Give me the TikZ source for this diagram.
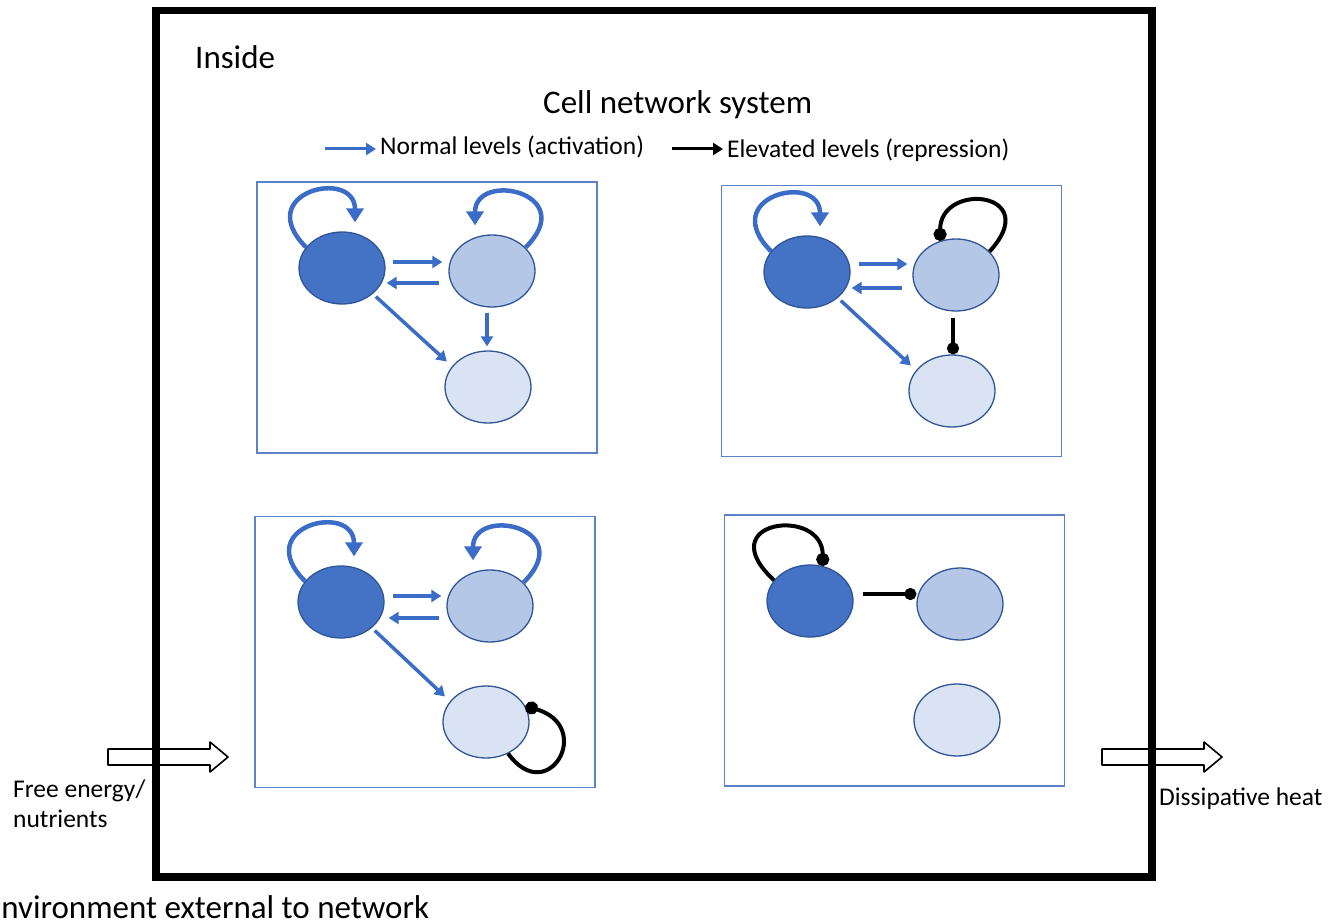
\documentclass[tikz,border=0pt]{standalone}
\usepackage{fontspec}
\setmainfont{Carlito}
\usepackage{xcolor}
\usetikzlibrary{arrows.meta,shapes.geometric}
\definecolor{celldark}{HTML}{4472C4}
\definecolor{cellmid}{HTML}{B4C7E7}
\definecolor{celllight}{HTML}{DAE3F3}
\definecolor{edgeblue}{HTML}{2F5597}
\definecolor{panelblue}{HTML}{5B82C8}
\definecolor{arrowblue}{HTML}{3A6CC8}
\newcommand{\bigtext}{\fontsize{33}{40}\selectfont}
\newcommand{\smalltext}{\fontsize{25.5}{30}\selectfont}
\tikzstyle{panel} = [draw=panelblue, line width=1.5pt, rectangle, minimum width=340pt, minimum height=271pt, inner sep=0pt]
\tikzstyle{gene} = [draw=edgeblue, line width=1.3pt, ellipse, minimum width=86pt, minimum height=72pt, inner sep=0pt]
\tikzstyle{act} = [draw=arrowblue, line width=3.5pt, -{Triangle[length=10pt,width=12pt]}]
\tikzstyle{actloop} = [draw=arrowblue, line width=4.5pt, -{Triangle[length=14pt,width=17pt]}]
\tikzstyle{rep} = [draw=black, line width=3.5pt, -{Circle[length=12pt]}]
\tikzstyle{reploop} = [draw=black, line width=4pt, -{Circle[length=13pt]}]
\tikzstyle{legblack} = [draw=black, line width=3pt, -{Triangle[length=10pt,width=12pt]}]
\tikzstyle{flow} = [draw=black, line width=1.6pt, line join=round]
\tikzstyle{txt} = [inner sep=0pt, anchor=base west]

\begin{document}
\begin{tikzpicture}[x=1pt,y=-1pt]
	\useasboundingbox (0,0) rectangle (1342,923);
	% texts
	\node[txt, font=\bigtext] (inside) at (195,69) {Inside};
	\node[txt, font=\bigtext] (title) at (543,114) {Cell network system};
	\node[txt, font=\smalltext] (lgnorm) at (380,155) {Normal levels (activation)};
	\node[txt, font=\smalltext] (lgelev) at (727,158) {Elevated levels (repression)};
	\coordinate (lgblue) at (325,149);
	\coordinate (lgdark) at (672,149);
	\draw[act, line width=3pt, shorten >=4pt] (lgblue) -- (lgblue -| lgnorm.west);
	\draw[legblack, shorten >=4pt] (lgdark) -- (lgdark -| lgelev.west);

	% panels
	\node[panel] (p1) at (427,317.5) {};
	\node[panel] (p2) at (891.5,321) {};
	\node[panel] (p3) at (425,652) {};
	\node[panel] (p4) at (894.5,650.5) {};

	% panel 1, all normal
	\node[gene, fill=celldark] (a1) at (342,268) {};
	\node[gene, fill=cellmid] (b1) at (492,271) {};
	\node[gene, fill=celllight] (c1) at (488,387) {};
	\draw[act, shorten <=7pt, shorten >=6pt] ([yshift=6pt]a1.east) -- ([yshift=6pt]a1.east -| b1.west);
	\draw[act, shorten <=9pt, shorten >=1pt] ([yshift=-15pt]a1.east -| b1.west) -- ([yshift=-15pt]a1.east);
	\draw[act, shorten <=5pt, shorten >=4pt] ([xshift=-5pt]b1.south) -- ([xshift=-5pt]b1.south |- c1.north);
	\draw[act, shorten <=4pt, shorten >=7pt] (a1.-40) -- (c1.150);
	\draw[actloop] (a1.150) .. controls +(-55,-55) and +(0,-55) .. ([xshift=13pt,yshift=9pt]a1.north);
	\draw[actloop] (b1.35) .. controls +(55,-55) and +(0,-55) .. ([xshift=-17pt,yshift=9pt]b1.north);

	% panel 2
	\node[gene, fill=celldark] (a2) at (807,272) {};
	\node[gene, fill=cellmid] (b2) at (956,275) {};
	\node[gene, fill=celllight] (c2) at (952,391) {};
	\draw[act, shorten <=8pt, shorten >=5pt] ([yshift=8pt]a2.east) -- ([yshift=8pt]a2.east -| b2.west);
	\draw[act, shorten <=10pt, shorten >=1pt] ([yshift=-16pt]a2.east -| b2.west) -- ([yshift=-16pt]a2.east);
	\draw[act, shorten <=4pt, shorten >=7pt] (a2.-40) -- (c2.150);
	\draw[actloop] (a2.150) .. controls +(-55,-55) and +(0,-55) .. ([xshift=13pt,yshift=9pt]a2.north);
	\draw[reploop] (b2.35) .. controls +(55,-60) and +(0,-60) .. (b2.115);
	\draw[rep, shorten <=6pt] ([xshift=-3pt]b2.south) -- ([xshift=-3pt]b2.south |- c2.north);

	% panel 3
	\node[gene, fill=celldark] (a3) at (341,602) {};
	\node[gene, fill=cellmid] (b3) at (490,606) {};
	\node[gene, fill=celllight] (c3) at (486,722) {};
	\draw[act, shorten <=8pt, shorten >=5pt] ([yshift=6pt]a3.east) -- ([yshift=6pt]a3.east -| b3.west);
	\draw[act, shorten <=7pt, shorten >=4pt] ([yshift=-16pt]a3.east -| b3.west) -- ([yshift=-16pt]a3.east);
	\draw[act, shorten <=4pt, shorten >=7pt] (a3.-40) -- (c3.150);
	\draw[actloop] (a3.150) .. controls +(-55,-55) and +(0,-55) .. ([xshift=13pt,yshift=9pt]a3.north);
	\draw[actloop] (b3.35) .. controls +(55,-55) and +(0,-55) .. ([xshift=-17pt,yshift=9pt]b3.north);
	\draw[reploop] (c3.-55) .. controls +(40,55) and +(70,20) .. (c3.22);

	% panel 4
	\node[gene, fill=celldark] (a4) at (810,601) {};
	\node[gene, fill=cellmid] (b4) at (960,604) {};
	\node[gene, fill=celllight] (c4) at (957,720) {};
	\draw[reploop] (a4.150) .. controls +(-65,-60) and +(0,-60) .. (a4.70);
	\draw[rep, shorten <=9pt] ([yshift=7pt]a4.east) -- ([yshift=7pt]a4.east -| b4.west);

	% energy in and out
	\draw[flow, shift={(108,757)}] (0,-8) -- (102,-8) -- (102,-15) -- (120,0) -- (102,15) -- (102,8) -- (0,8) -- cycle;
	\draw[flow, shift={(1102,757)}] (0,-8) -- (102,-8) -- (102,-15) -- (120,0) -- (102,15) -- (102,8) -- (0,8) -- cycle;
	\node[draw, line width=7.5pt, rectangle, minimum width=996pt, minimum height=866.5pt, inner sep=0pt] (cellsys) at (654,443.75) {};
	\node[txt, font=\smalltext] (inflow) at (13,797) {Free energy/};
	\node[txt, font=\smalltext] (inflow2) at (13,827) {nutrients};
	\node[txt, font=\smalltext] (outflow) at (1159,805) {Dissipative heat};
	\node[txt, font=\bigtext] (env) at (-15,918) {Environment external to network};
\end{tikzpicture}
\end{document}
